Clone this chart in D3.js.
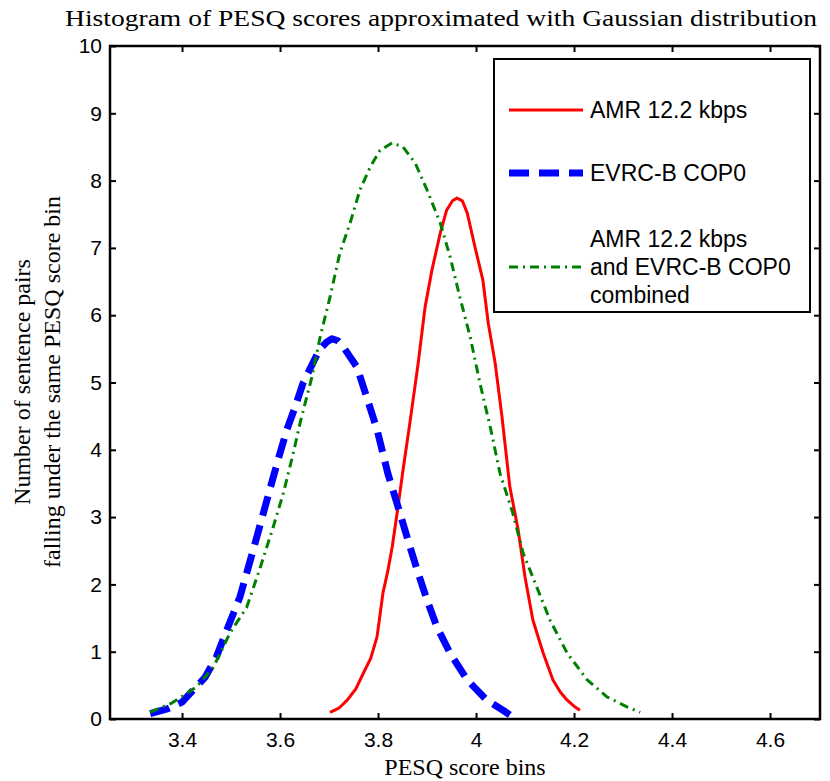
<!DOCTYPE html>
<html>
<head>
<meta charset="utf-8">
<script src="https://cdn.jsdelivr.net/npm/d3@7"></script>
<style>
  body { margin: 0; background: #fff; }
</style>
</head>
<body>
<div id="vizcontainer"></div>
<script>
// PESQ score (x) and number of sentence pairs (y)
const amrX = [3.702, 3.72, 3.737, 3.755, 3.77, 3.785, 3.798, 3.81, 3.82, 3.829, 3.839, 3.851, 3.865, 3.882, 3.896, 3.91, 3.927, 3.94, 3.952, 3.961, 3.972, 3.982, 3.998, 4.014, 4.025, 4.039, 4.053, 4.069, 4.086, 4.1, 4.116, 4.137, 4.157, 4.172, 4.186, 4.2, 4.212];
const amrY = [0.1, 0.16, 0.28, 0.45, 0.68, 0.9, 1.22, 1.87, 2.2, 2.56, 3.06, 3.7, 4.4, 5.29, 6.12, 6.67, 7.22, 7.56, 7.7, 7.74, 7.7, 7.52, 7.01, 6.52, 5.88, 5.29, 4.49, 3.45, 2.81, 2.11, 1.47, 0.98, 0.58, 0.4, 0.28, 0.19, 0.13];

const evrcX = [3.335, 3.37, 3.4, 3.447, 3.47, 3.494, 3.518, 3.532, 3.549, 3.566, 3.583, 3.596, 3.614, 3.63, 3.647, 3.667, 3.68, 3.695, 3.706, 3.718, 3.729, 3.757, 3.777, 3.798, 3.82, 3.841, 3.861, 3.88, 3.9, 3.92, 3.947, 3.982, 4.022, 4.055, 4.075];
const evrcY = [0.08, 0.15, 0.25, 0.62, 0.92, 1.37, 1.81, 2.17, 2.61, 3.06, 3.51, 3.85, 4.3, 4.62, 4.99, 5.29, 5.48, 5.6, 5.65, 5.62, 5.53, 5.23, 4.78, 4.3, 3.65, 3.15, 2.66, 2.21, 1.77, 1.37, 0.98, 0.58, 0.28, 0.13, 0.03];

const combX = [3.335, 3.38, 3.43, 3.464, 3.498, 3.532, 3.56, 3.586, 3.607, 3.627, 3.641, 3.665, 3.682, 3.702, 3.722, 3.743, 3.763, 3.784, 3.804, 3.829, 3.851, 3.876, 3.9, 3.927, 3.947, 3.967, 3.988, 4.008, 4.029, 4.049, 4.075, 4.096, 4.124, 4.151, 4.186, 4.227, 4.267, 4.308, 4.335];
const combY = [0.1, 0.24, 0.48, 0.77, 1.28, 1.66, 2.26, 2.85, 3.36, 3.95, 4.4, 5.08, 5.68, 6.27, 6.92, 7.37, 7.86, 8.2, 8.45, 8.56, 8.5, 8.26, 7.86, 7.37, 6.87, 6.27, 5.68, 4.99, 4.34, 3.65, 3.06, 2.47, 1.96, 1.47, 0.98, 0.58, 0.33, 0.18, 0.1];

const xTicks = [3.4, 3.6, 3.8, 4, 4.2, 4.4, 4.6];
const yTicks = [0, 1, 2, 3, 4, 5, 6, 7, 8, 9, 10];

const series = [
  { name: ['AMR 12.2 kbps'], xs: amrX, ys: amrY, color: '#ff0000', width: 3, dash: null },
  { name: ['EVRC-B COP0'], xs: evrcX, ys: evrcY, color: '#0000ff', width: 7, dash: '20,10' },
  { name: ['AMR 12.2 kbps', 'and EVRC-B COP0', 'combined'], xs: combX, ys: combY, color: '#008000', width: 3, dash: '9,5,2,5' }
];

const
  W = 830, H = 781,
  margin = { top: 46, right: 10, bottom: 62, left: 110 },
  serif = '"Liberation Serif", "Times New Roman", serif',
  sans = '"Liberation Sans", Arial, sans-serif'
  ;

const svg = d3.select('#vizcontainer')
  .append('svg')
  .attr('width', W)
  .attr('height', H);

const x = d3.scaleLinear()
  .domain([3.253, 4.702])
  .range([margin.left, W - margin.right]);

const y = d3.scaleLinear()
  .domain([0, 10])
  .range([H - margin.bottom, margin.top]);

// lines first, axes box on top
const line = d3.line()
  .x(d => x(d[0]))
  .y(d => y(d[1]));

series.forEach(s => {
  svg.append('path')
    .datum(s.xs.map((v, i) => [v, s.ys[i]]))
    .attr('d', line)
    .attr('fill', 'none')
    .attr('stroke', s.color)
    .attr('stroke-width', s.width)
    .attr('stroke-dasharray', s.dash)
    .attr('stroke-linejoin', 'round');
});

// ticks pointing inward on all four sides
const tk = 6;
svg.append('g')
  .attr('transform', `translate(0,${y(0)})`)
  .call(d3.axisBottom(x).tickValues(xTicks).tickSize(-tk).tickPadding(13).tickFormat(d3.format('')));
svg.append('g')
  .attr('transform', `translate(0,${y(10)})`)
  .call(d3.axisTop(x).tickValues(xTicks).tickSize(-tk).tickFormat(''));
svg.append('g')
  .attr('transform', `translate(${x.range()[0]},0)`)
  .call(d3.axisLeft(y).tickValues(yTicks).tickSize(-tk).tickPadding(8));
svg.append('g')
  .attr('transform', `translate(${x.range()[1]},0)`)
  .call(d3.axisRight(y).tickValues(yTicks).tickSize(-tk).tickFormat(''));

svg.selectAll('.domain').remove();
svg.selectAll('.tick line').attr('stroke', '#000').attr('stroke-width', 2);
svg.selectAll('.tick text')
  .attr('font-family', sans)
  .attr('font-size', 21)
  .attr('fill', '#000');

svg.append('rect')
  .attr('x', x.range()[0])
  .attr('y', y(10))
  .attr('width', x.range()[1] - x.range()[0])
  .attr('height', y(0) - y(10))
  .attr('fill', 'none')
  .attr('stroke', '#000')
  .attr('stroke-width', 2.5);

// legend
const lg = svg.append('g').attr('transform', 'translate(494,59)');
lg.append('rect')
  .attr('width', 316)
  .attr('height', 253)
  .attr('fill', '#fff')
  .attr('stroke', '#000')
  .attr('stroke-width', 2);

const rowY = [51, 114, 208];
series.forEach((s, i) => {
  lg.append('line')
    .attr('x1', 15).attr('x2', 89)
    .attr('y1', rowY[i]).attr('y2', rowY[i])
    .attr('stroke', s.color)
    .attr('stroke-width', s.width)
    .attr('stroke-dasharray', s.dash);
  const n = s.name.length;
  s.name.forEach((t, j) => {
    lg.append('text')
      .text(t)
      .attr('x', 96)
      .attr('y', rowY[i] + 8 + (j - (n - 1) / 2) * 28)
      .attr('font-family', sans)
      .attr('font-size', 23)
      .attr('fill', '#000');
  });
});

// titles
svg.append('text')
  .text('Histogram of PESQ scores approximated with Gaussian distribution')
  .attr('x', 441)
  .attr('y', 26)
  .attr('text-anchor', 'middle')
  .attr('textLength', 752)
  .attr('lengthAdjust', 'spacingAndGlyphs')
  .attr('font-family', serif)
  .attr('font-size', 23);

svg.append('text')
  .text('PESQ score bins')
  .attr('x', (x.range()[0] + x.range()[1]) / 2)
  .attr('y', 775)
  .attr('text-anchor', 'middle')
  .attr('font-family', serif)
  .attr('font-size', 24);

const yl = svg.append('text')
  .attr('transform', 'translate(30,382) rotate(-90)')
  .attr('text-anchor', 'middle')
  .attr('font-family', serif)
  .attr('font-size', 24);
yl.append('tspan').attr('x', 0).attr('y', 0).text('Number of sentence pairs');
yl.append('tspan').attr('x', 0).attr('y', 30).text('falling under the same PESQ score bin');
</script>
</body>
</html>
